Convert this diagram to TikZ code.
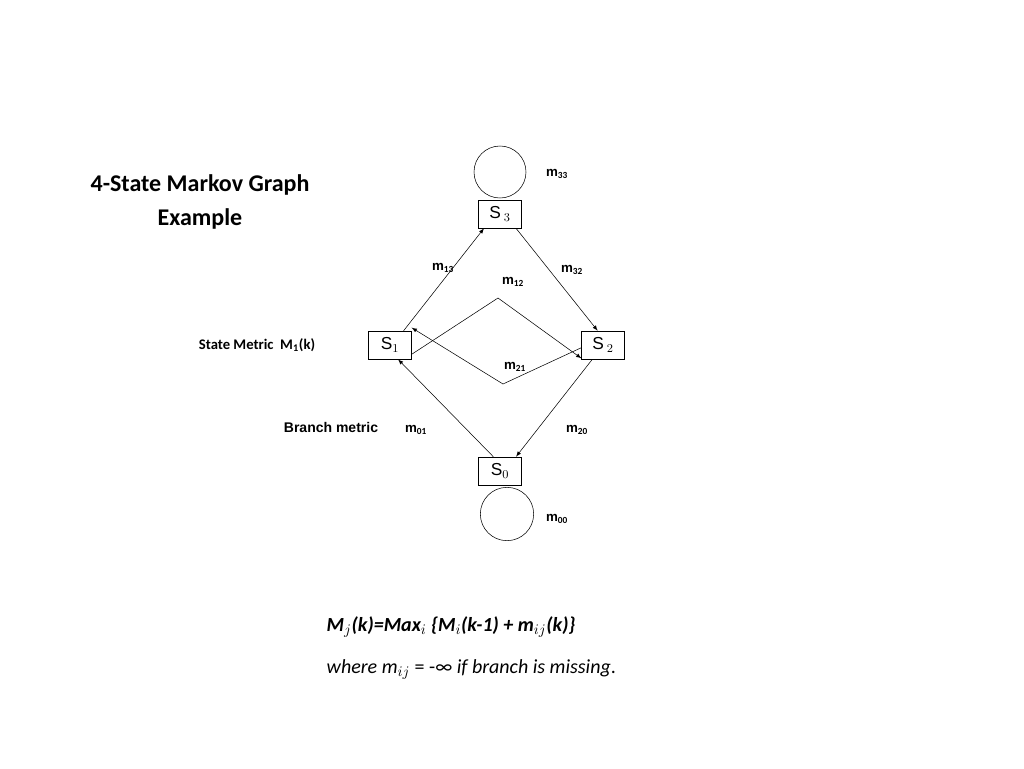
\documentclass[tikz,border=0pt]{standalone}
\usepackage{fontspec}
\setmainfont{Carlito}
\newfontfamily\arial{Liberation Sans}
\begin{document}
\begin{tikzpicture}[x=0.75pt,y=-0.75pt,
  st/.style={draw,thin,fill=white,minimum width=32pt,minimum height=21pt,inner sep=0pt,font=\arial\fontsize{13}{15}\selectfont},
  lb/.style={font=\arial\bfseries\fontsize{10}{12}\selectfont,inner sep=0pt},
  ar/.style={-latex,thin}]
\useasboundingbox (0,0) rectangle (1024,768);
\node[st] (s3) at (500,214) {S\,$_{\arial 3}$};
\node[st] (s1) at (390,345) {S$_{\arial 1}$};
\node[st] (s2) at (603,345) {S\,$_{\arial 2}$};
\node[st] (s0) at (500,471) {S$_{\arial 0}$};
\node[draw,thin,circle,minimum size=39pt,inner sep=0pt] (c3) at (500,172) {};
\node[draw,thin,circle,minimum size=40pt,inner sep=0pt] (c0) at (507,514) {};
\coordinate (k1) at (498,298);
\coordinate (k2) at (503,384);
\draw[ar] (s1.north east)++(-8,0) -- ([xshift=-12pt]s3.south);
\draw[ar] ([xshift=12pt]s3.south) -- ([xshift=-4pt]s2.north);
\draw[ar] ([yshift=-7pt]s1.east) -- (k1) -- ([yshift=-10pt]s2.west);
\draw[ar] ([yshift=-2pt]s2.west) -- (k2) -- ([yshift=13pt]s1.east);
\draw[ar] ([xshift=-8pt]s2.south) -- ([xshift=12pt]s0.north);
\draw[ar] ([xshift=-5pt]s0.north) -- ([xshift=6pt]s1.south);
\node[lb] (l33) at (557,174) {m$_{\mathbf{33}}$};
\node[lb] (l13) at (443,268) {m$_{\mathbf{13}}$};
\node[lb] (l12) at (513,282) {m$_{\mathbf{12}}$};
\node[lb] (l32) at (572,270) {m$_{\mathbf{32}}$};
\node[lb] (l21) at (515,367) {m$_{\mathbf{21}}$};
\node[lb] (l01) at (416,430) {m$_{\mathbf{01}}$};
\node[lb] (l20) at (577,430) {m$_{\mathbf{20}}$};
\node[lb] (l00) at (557,519) {m$_{\mathbf{00}}$};
\node[font=\bfseries\fontsize{11}{13}\selectfont] (sm) at (257,345) {State Metric\ \ M$_{\mathbf 1}$(k)};
\node[lb,font=\arial\bfseries\fontsize{10.5}{12}\selectfont] (bm) at (331,427) {Branch metric};
\node[font=\bfseries\fontsize{18}{25}\selectfont,align=center] (t) at (200,202) {4-State Markov Graph\\Example};
\node[anchor=west,font=\bfseries\itshape\fontsize{15}{18}\selectfont] (f1) at (322,627) {M$_j$(k)=Max$_i$ \{M$_i$(k-1) + m$_{ij}$(k)\}};
\node[anchor=west,font=\itshape\fontsize{15}{18}\selectfont] (f2) at (322,669) {where m$_{ij}$ {\upshape = -∞} if branch is missing{\upshape .}};
\end{tikzpicture}
\end{document}
